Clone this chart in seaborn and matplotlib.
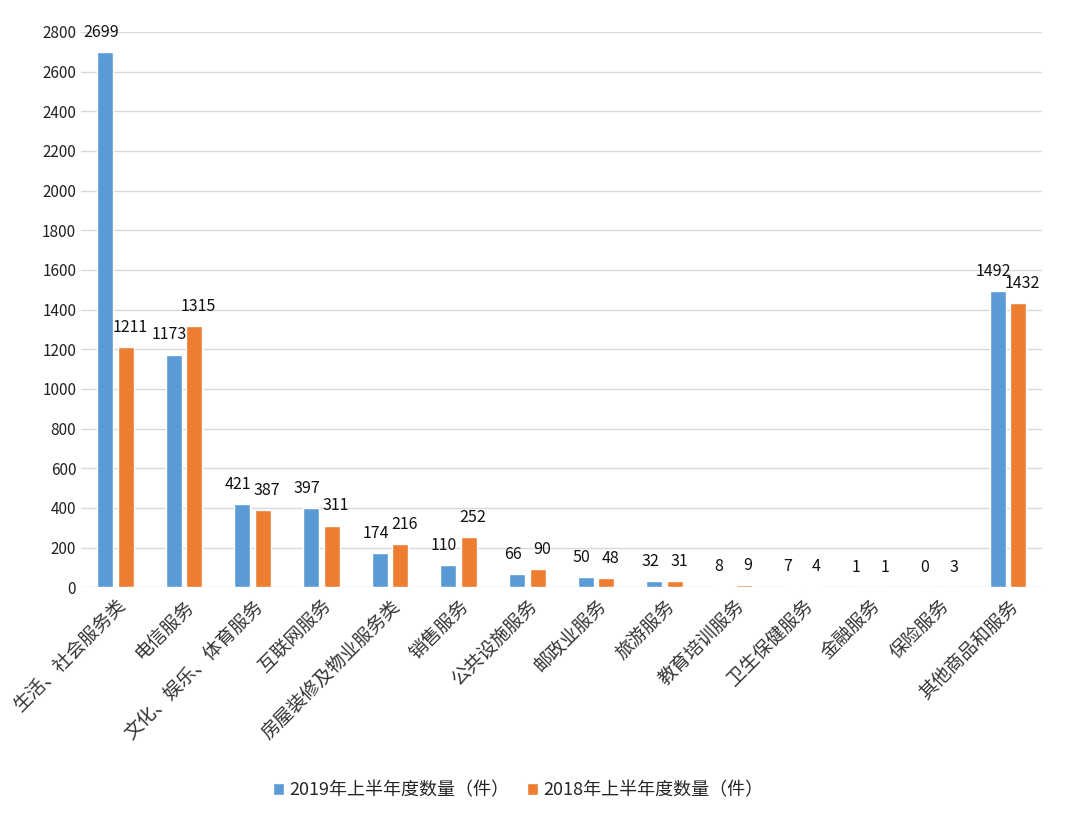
import matplotlib
matplotlib.use("Agg")
import matplotlib.pyplot as plt
import seaborn as sns
import pandas as pd

categories = ["生活、社会服务类", "电信服务", "文化、娱乐、体育服务", "互联网服务",
              "房屋装修及物业服务类", "销售服务", "公共设施服务", "邮政业服务",
              "旅游服务", "教育培训服务", "卫生保健服务", "金融服务", "保险服务",
              "其他商品和服务"]
series_names = ["2019年上半年度数量（件）", "2018年上半年度数量（件）"]
values_2019 = [2699, 1173, 421, 397, 174, 110, 66, 50, 32, 8, 7, 1, 0, 1492]
values_2018 = [1211, 1315, 387, 311, 216, 252, 90, 48, 31, 9, 4, 1, 3, 1432]
y_ticks = list(range(0, 2801, 200))

sns.set_theme(style="white")
plt.rcParams['font.family'] = ['Noto Sans CJK SC', 'DejaVu Sans']

df = pd.DataFrame({
    "category": categories * 2,
    "series": [series_names[0]] * len(categories) + [series_names[1]] * len(categories),
    "value": values_2019 + values_2018,
})

fig = plt.figure(figsize=(10.8, 8.19), dpi=100)
ax = fig.add_axes([0.075, 0.283, 0.890, 0.678])

sns.barplot(data=df, x="category", y="value", hue="series", order=categories,
            hue_order=series_names, palette=["#5B9BD5", "#ED7D31"],
            width=0.6, gap=0.22, ax=ax, legend=True, saturation=1)

ax.set_ylim(0, 2800)
ax.set_yticks(y_ticks)
ax.set_yticklabels([str(t) for t in y_ticks], fontsize=11, color="#222222")
ax.yaxis.grid(True, color="#D9D9D9", linewidth=1)
ax.set_axisbelow(True)
for s in ax.spines.values():
    s.set_visible(False)
ax.tick_params(axis="both", length=0)
ax.tick_params(axis="x", pad=6)
ax.set_xlabel("")
ax.set_ylabel("")
ax.set_xlim(-0.5, len(categories) - 0.5)
ax.set_xticks(range(len(categories)))
ax.set_xticklabels(categories, rotation=45, ha="right", rotation_mode="anchor",
                   fontsize=13.5, color="#333333")

x_shift = [-3, 3]
for cont, dx in zip(ax.containers, x_shift):
    for bar in cont:
        h = bar.get_height()
        ax.annotate(f"{int(round(h))}", (bar.get_x() + bar.get_width() / 2, h),
                    xytext=(dx, 8), textcoords="offset points",
                    ha="center", va="bottom", fontsize=11.5, color="#111111")

leg = ax.legend(loc="upper center", bbox_to_anchor=(0.455, -0.32), ncol=2,
                frameon=False, fontsize=13, handlelength=0.6, handleheight=0.6,
                columnspacing=1.0, handletextpad=0.3)

fig.savefig("out.png", dpi=100, facecolor="white")
